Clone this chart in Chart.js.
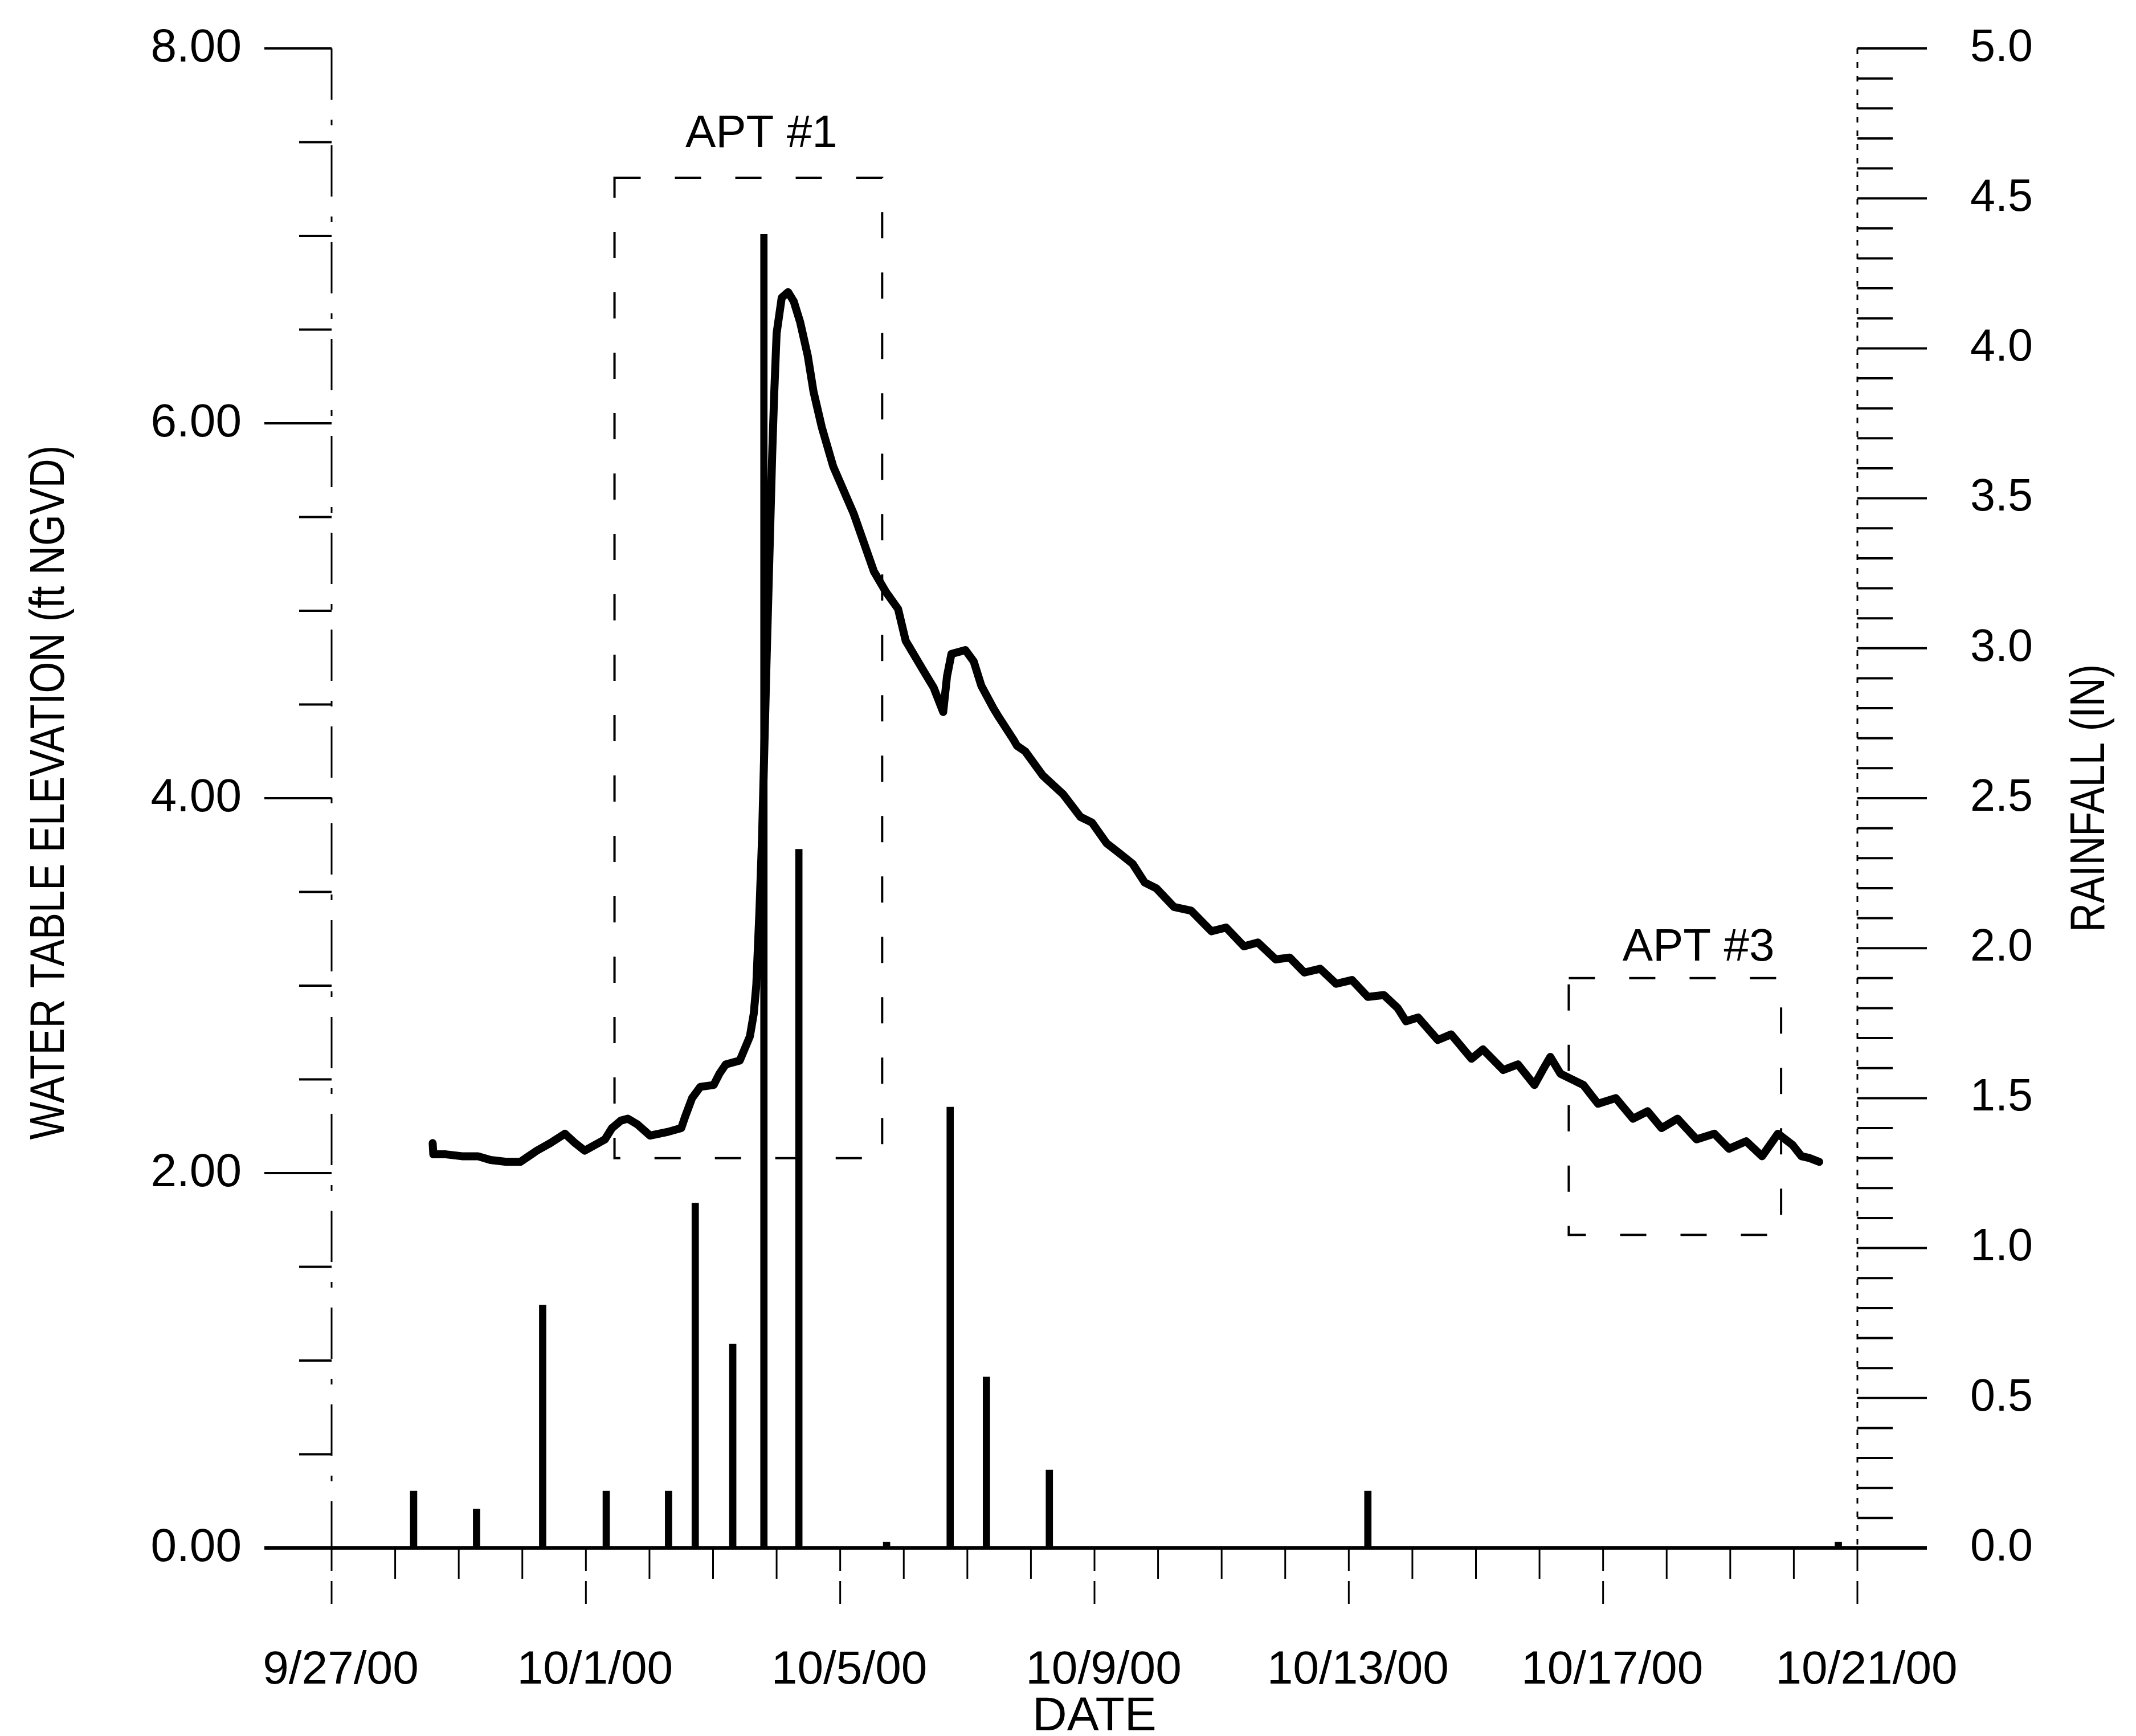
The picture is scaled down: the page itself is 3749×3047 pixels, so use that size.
<!DOCTYPE html>
<html>
<head>
<meta charset="utf-8">
<script src="https://cdn.jsdelivr.net/npm/chart.js@4.4.1/dist/chart.umd.min.js"></script>
<style>
  html, body { margin: 0; padding: 0; background: #fff; }
  canvas { display: block; }
</style>
</head>
<body>
<canvas id="chart" width="3749" height="3047"></canvas>
<script>
// x values are days after 9/27/00 00:00
var levelDays = [1.59, 1.60, 1.80, 2.05, 2.30, 2.50, 2.75, 2.97, 3.10, 3.23, 3.44, 3.67, 3.83, 3.98,
  4.30, 4.41, 4.55, 4.66, 4.81, 5.01, 5.29, 5.50, 5.56, 5.67, 5.80, 6.01, 6.10, 6.20, 6.42,
  6.58, 6.64, 6.68, 6.73, 6.77, 6.84, 6.93, 6.96, 7.00, 7.08, 7.18, 7.27, 7.37, 7.49, 7.58,
  7.71, 7.89, 8.21, 8.53, 8.72, 8.91, 9.03, 9.31, 9.47, 9.62, 9.68, 9.75, 9.97, 10.10, 10.22,
  10.41, 10.50, 10.73, 10.78, 10.91, 11.19, 11.51, 11.78, 11.96, 12.19, 12.38, 12.60, 12.79,
  12.97, 13.25, 13.52, 13.84, 14.07, 14.35, 14.57, 14.85, 15.07, 15.30, 15.55, 15.80, 16.05,
  16.30, 16.55, 16.77, 16.90, 17.09, 17.40, 17.61, 17.93, 18.11, 18.43, 18.66, 18.92, 19.05,
  19.17, 19.33, 19.51, 19.69, 19.92, 20.20, 20.47, 20.70, 20.92, 21.17, 21.47, 21.75, 21.98,
  22.25, 22.50, 22.75, 22.98, 23.12, 23.25, 23.40]
var levelFeet = [2.16, 2.10, 2.10, 2.09, 2.09, 2.07, 2.06, 2.06, 2.09, 2.12, 2.16, 2.21, 2.16, 2.12,
  2.18, 2.24, 2.28, 2.29, 2.26, 2.20, 2.22, 2.24, 2.30, 2.40, 2.46, 2.47, 2.53, 2.58, 2.60,
  2.73, 2.85, 3.00, 3.40, 3.78, 4.71, 5.83, 6.14, 6.48, 6.67, 6.70, 6.65, 6.54, 6.36, 6.17,
  5.98, 5.77, 5.52, 5.21, 5.10, 5.01, 4.84, 4.68, 4.59, 4.46, 4.65, 4.77, 4.79, 4.73, 4.60,
  4.48, 4.43, 4.31, 4.28, 4.25, 4.12, 4.02, 3.90, 3.87, 3.76, 3.71, 3.65, 3.55,
  3.52, 3.42, 3.40, 3.29, 3.31, 3.21, 3.23, 3.14, 3.15, 3.07, 3.09, 3.01, 3.03,
  2.94, 2.95, 2.88, 2.81, 2.83, 2.71, 2.74, 2.61, 2.66, 2.55, 2.58, 2.47, 2.55,
  2.62, 2.53, 2.50, 2.47, 2.37, 2.40, 2.29, 2.33, 2.24, 2.29, 2.18, 2.21, 2.13,
  2.17, 2.09, 2.21, 2.15, 2.09, 2.08, 2.06]

var rainDays = [1.29, 2.28, 3.32, 4.32, 5.30, 5.72, 6.31, 6.80, 7.35, 8.73, 9.73, 10.30, 11.29, 16.30, 23.70]
var rainInches = [0.19, 0.13, 0.81, 0.19, 0.19, 1.15, 0.68, 4.38, 2.33, 0.02, 1.47, 0.57, 0.26, 0.19, 0.02]

// aquifer performance test windows
var aptNames = ['APT #1', 'APT #3']
var aptStart = [4.45, 19.46]
var aptEnd = [8.66, 22.80]
var aptLow = [2.08, 1.67]
var aptHigh = [7.31, 3.04]
var aptLabelDay = [6.76, 21.50]
var aptLabelFeet = [7.54, 3.20]

var leftTitle = 'WATER TABLE ELEVATION (ft NGVD)'
var rightTitle = 'RAINFALL (IN)'

var FONT = "'Liberation Sans', Arial, sans-serif"
var CLEAR = 'rgba(0,0,0,0)'

function dateLabel(v) {
  var d = new Date(2000, 8, 27 + v)
  return (d.getMonth() + 1) + '/' + d.getDate() + '/00'
}

function seg(ctx, x1, y1, x2, y2) {
  ctx.beginPath()
  ctx.moveTo(x1, y1)
  ctx.lineTo(x2, y2)
  ctx.stroke()
}

// tick marks, axis lines, test boxes and side titles, placed through the scales
const scanAxes = {
  id: 'scanAxes',
  afterDraw(chart) {
    const ctx = chart.ctx
    const x = chart.scales.x, y = chart.scales.y, y2 = chart.scales.y2
    const left = x.getPixelForValue(0), right = x.getPixelForValue(24)
    const top = y.getPixelForValue(8), base = y.getPixelForValue(0)
    ctx.save()
    ctx.strokeStyle = '#000'
    ctx.fillStyle = '#000'

    // left axis, broken like the scan
    ctx.lineWidth = 3
    ctx.setLineDash([90, 35, 10, 35])
    seg(ctx, left, top, left, base)
    ctx.setLineDash([])
    ctx.lineWidth = 4
    for (var i = 0; i <= 16; i++) {
      var py = y.getPixelForValue(i * 0.5)
      seg(ctx, left - (i % 4 === 0 ? 118 : 57), py, left, py)
    }

    // right axis
    ctx.lineWidth = 3
    ctx.setLineDash([10, 14])
    seg(ctx, right, y2.getPixelForValue(5), right, base)
    ctx.setLineDash([])
    ctx.lineWidth = 4
    for (var j = 0; j <= 50; j++) {
      var ry = y2.getPixelForValue(j / 10)
      seg(ctx, right, ry, right + (j % 5 === 0 ? 122 : 62), ry)
    }

    // baseline
    ctx.lineWidth = 6
    seg(ctx, left - 118, base, right + 122, base)

    // date ticks
    for (var d = 0; d <= 24; d++) {
      var px = x.getPixelForValue(d)
      ctx.lineWidth = 3
      if (d % 4 === 0) {
        ctx.setLineDash([40, 18])
        seg(ctx, px, base, px, base + 110)
      } else {
        ctx.setLineDash([])
        seg(ctx, px, base, px, base + 54)
      }
    }
    ctx.setLineDash([])

    // APT boxes
    ctx.lineWidth = 4
    ctx.setLineDash([46, 60])
    ctx.font = '80px ' + FONT
    ctx.textAlign = 'center'
    ctx.textBaseline = 'middle'
    for (var k = 0; k < aptNames.length; k++) {
      var bx1 = x.getPixelForValue(aptStart[k]), bx2 = x.getPixelForValue(aptEnd[k])
      var by1 = y.getPixelForValue(aptHigh[k]), by2 = y.getPixelForValue(aptLow[k])
      ctx.strokeRect(bx1, by1, bx2 - bx1, by2 - by1)
      ctx.fillText(aptNames[k], x.getPixelForValue(aptLabelDay[k]), y.getPixelForValue(aptLabelFeet[k]))
    }
    ctx.setLineDash([])

    // vertical titles, narrow lettering, both read bottom to top
    ctx.font = '86px ' + FONT
    ctx.save()
    ctx.translate(88, (top + base) / 2 - 10)
    ctx.rotate(-Math.PI / 2)
    ctx.scale(0.82, 1)
    ctx.fillText(leftTitle, 0, 0)
    ctx.restore()
    ctx.save()
    ctx.translate(3669, (top + base) / 2)
    ctx.rotate(-Math.PI / 2)
    ctx.scale(0.82, 1)
    ctx.fillText(rightTitle, 0, 0)
    ctx.restore()

    ctx.restore()
  }
}

new Chart(document.getElementById('chart'), {
  data: {
    datasets: [{
      type: 'line',
      label: 'Water table',
      data: levelDays.map(function (d, i) { return { x: d, y: levelFeet[i] } }),
      yAxisID: 'y',
      borderColor: '#000',
      borderWidth: 14,
      borderJoinStyle: 'round',
      borderCapStyle: 'round',
      pointRadius: 0,
      tension: 0,
      fill: false
    }, {
      type: 'bar',
      label: 'Rainfall',
      data: rainDays.map(function (d, i) { return { x: d, y: rainInches[i] } }),
      yAxisID: 'y2',
      backgroundColor: '#000',
      borderWidth: 0,
      barThickness: 12,
      grouped: false
    }]
  },
  options: {
    responsive: false,
    animation: false,
    layout: { padding: { top: 85, left: 0, right: 0, bottom: 0 } },
    plugins: { legend: { display: false }, tooltip: { enabled: false } },
    scales: {
      x: {
        type: 'linear',
        min: 0, max: 24,
        offset: false,
        grid: { offset: false, drawOnChartArea: false, drawTicks: true, tickLength: 166, tickColor: CLEAR },
        border: { display: false },
        ticks: {
          stepSize: 4, autoSkip: false, maxRotation: 0,
          padding: 0, labelOffset: 16,
          color: '#000', font: { family: FONT, size: 82 },
          callback: function (v) { return dateLabel(v) }
        },
        title: {
          display: true, text: 'DATE', color: '#000',
          font: { family: FONT, size: 84, lineHeight: 0.8 },
          padding: 0
        },
        afterFit: function (s) { s.height = 330 }
      },
      y: {
        position: 'left',
        min: 0, max: 8,
        grid: { drawOnChartArea: false, drawTicks: true, tickLength: 158, tickColor: CLEAR },
        border: { display: false },
        ticks: {
          stepSize: 2, padding: 0, color: '#000',
          font: { family: FONT, size: 82 },
          callback: function (v) { return v.toFixed(2) }
        },
        afterFit: function (s) { s.width = 582 }
      },
      y2: {
        position: 'right',
        min: 0, max: 5,
        grid: { drawOnChartArea: false, drawTicks: true, tickLength: 198, tickColor: CLEAR },
        border: { display: false },
        ticks: {
          stepSize: 0.5, padding: 0, color: '#000',
          font: { family: FONT, size: 79 },
          callback: function (v) { return v.toFixed(1) }
        },
        afterFit: function (s) { s.width = 489 }
      }
    }
  },
  plugins: [scanAxes]
})
</script>
</body>
</html>
